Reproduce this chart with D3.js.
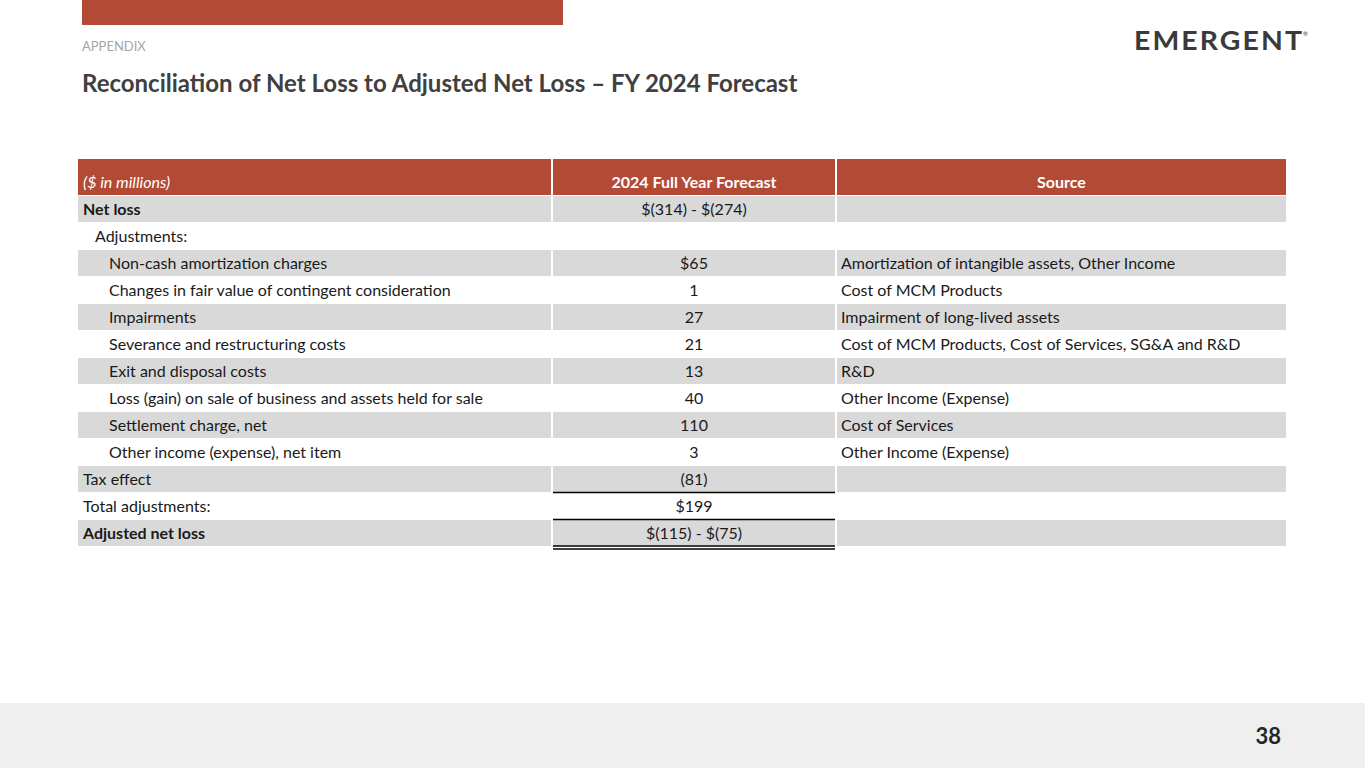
<!DOCTYPE html>
<html><head><meta charset="utf-8">
<script src="https://cdn.jsdelivr.net/npm/d3@7"></script>
<style>body{margin:0;background:#fff}svg{display:block;font-family:Lato,"Noto Sans",sans-serif}</style>
</head><body><div id="chart"></div>
<script>
const labels = ["Net loss", "Adjustments:", "Non-cash amortization charges", "Changes in fair value of contingent consideration", "Impairments", "Severance and restructuring costs", "Exit and disposal costs", "Loss (gain) on sale of business and assets held for sale", "Settlement charge, net", "Other income (expense), net item", "Tax effect", "Total adjustments:", "Adjusted net loss"]
const forecast = ["$(314) - $(274)", "", "$65", "1", "27", "21", "13", "40", "110", "3", "(81)", "$199", "$(115) - $(75)"]
const sources = ["", "", "Amortization of intangible assets, Other Income", "Cost of MCM Products", "Impairment of long-lived assets", "Cost of MCM Products, Cost of Services, SG&A and R&D", "R&D", "Other Income (Expense)", "Cost of Services", "Other Income (Expense)", "", "", ""]
const indent = [0, 1, 2, 2, 2, 2, 2, 2, 2, 2, 0, 0, 0]
const bold = [true, false, false, false, false, false, false, false, false, false, false, false, true]
const headers = ["($ in millions)", "2024 Full Year Forecast", "Source"]

const RED = "#b24a35"
const svg = d3.select("#chart").append("svg").attr("width", 1365).attr("height", 768)

svg.append("rect").attr("x", 82).attr("y", 0).attr("width", 481).attr("height", 25).attr("fill", RED)
svg.append("text").attr("x", 82).attr("y", 51).attr("font-size", 13).attr("fill", "#a6a6a6").text("APPENDIX")
svg.append("text").attr("x", 82).attr("y", 92).attr("font-size", 24).attr("font-weight", "bold").attr("fill", "#404040")
  .text("Reconciliation of Net Loss to Adjusted Net Loss – FY 2024 Forecast")
// logo
const logo = svg.append("text").attr("x", 1134).attr("y", 50).attr("font-size", 27).attr("font-weight", "bold")
  .attr("fill", "#3a3a3a").attr("letter-spacing", 2).attr("textLength", 170).attr("lengthAdjust", "spacingAndGlyphs")
logo.append("tspan").text("EMERGE")
logo.append("tspan").text("N").attr("fill", "#3a3a3a")
logo.append("tspan").text("T")
svg.append("text").attr("x", 1303).attr("y", 36).attr("font-size", 6).attr("fill", "#3a3a3a").text("®")

// footer
svg.append("rect").attr("x", 0).attr("y", 703).attr("width", 1365).attr("height", 65).attr("fill", "#efefef")
svg.append("text").attr("x", 1281).attr("y", 744).attr("text-anchor", "end").attr("font-size", 22).attr("font-weight", "bold").attr("fill", "#262626").text("38")

// table
const cols = [{x: 78, w: 473}, {x: 553, w: 282}, {x: 837, w: 449}]
const y = d3.scaleBand().domain(d3.range(labels.length)).range([196, 547]).paddingInner(0)
const rowH = y.bandwidth()

const head = svg.append("g")
cols.forEach((c, j) => {
  head.append("rect").attr("x", c.x).attr("y", 159).attr("width", c.w).attr("height", 36).attr("fill", RED)
})
head.append("text").attr("x", 83).attr("y", 188).attr("font-size", 16).attr("font-style", "italic").attr("fill", "#fff").text(headers[0])
head.append("text").attr("x", cols[1].x + cols[1].w / 2).attr("y", 188).attr("text-anchor", "middle").attr("font-size", 16).attr("font-weight", "bold").attr("fill", "#fff").text(headers[1])
head.append("text").attr("x", cols[2].x + cols[2].w / 2).attr("y", 188).attr("text-anchor", "middle").attr("font-size", 16).attr("font-weight", "bold").attr("fill", "#fff").text(headers[2])

const rows = svg.selectAll("g.row").data(labels).join("g").attr("class", "row")
  .attr("transform", (d, i) => `translate(0,${y(i)})`)
rows.each(function (d, i) {
  const g = d3.select(this)
  if (i % 2 === 0) cols.forEach(c => g.append("rect").attr("x", c.x).attr("y", 0).attr("width", c.w).attr("height", rowH - 1).attr("fill", "#d9d9d9"))
  g.append("text").attr("x", 83 + [0, 12, 26][indent[i]]).attr("y", 19).attr("font-size", 16)
    .attr("font-weight", bold[i] ? "bold" : null).attr("fill", "#1a1a1a").text(d)
  g.append("text").attr("x", cols[1].x + cols[1].w / 2).attr("y", 19).attr("text-anchor", "middle").attr("font-size", 16).attr("fill", "#1a1a1a").text(forecast[i])
  g.append("text").attr("x", cols[2].x + 4).attr("y", 19).attr("font-size", 16).attr("fill", "#1a1a1a").text(sources[i])
})
// rule lines
const line = yy => svg.append("line").attr("x1", 553).attr("x2", 835).attr("y1", yy).attr("y2", yy).attr("stroke", "#000").attr("stroke-width", 1.5)
line(y(10) + rowH - 0.5)
line(y(11) + rowH - 0.5)
line(y(12) + rowH - 1)
line(y(12) + rowH + 2)
</script></body></html>
